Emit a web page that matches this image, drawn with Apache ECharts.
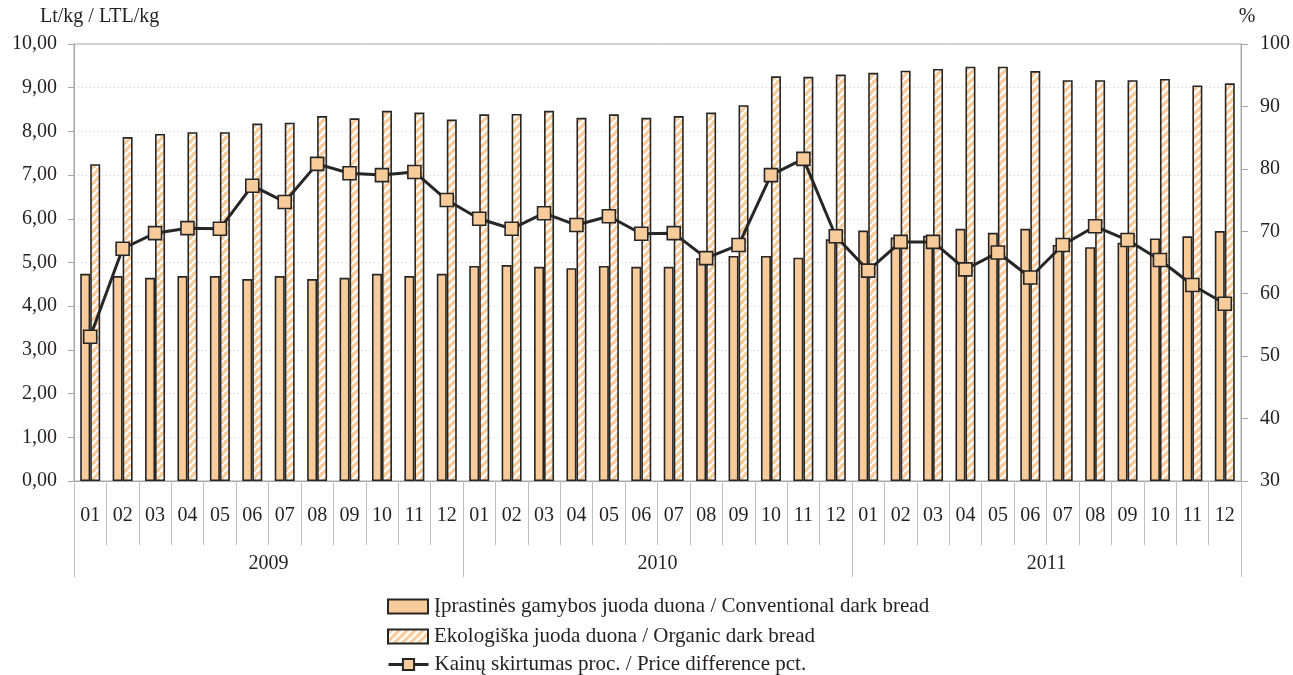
<!DOCTYPE html>
<html><head><meta charset="utf-8">
<script src="https://cdn.jsdelivr.net/npm/echarts@6/dist/echarts.min.js"></script>
<style>html,body{margin:0;padding:0;background:#fff}#c{width:1293px;height:675px}</style>
</head><body><div id="c"></div>
<script>
var months = ['01','02','03','04','05','06','07','08','09','10','11','12',
              '01','02','03','04','05','06','07','08','09','10','11','12',
              '01','02','03','04','05','06','07','08','09','10','11','12'];
var years = ['2009','2010','2011'];
var conventional = [4.74,4.69,4.65,4.69,4.69,4.62,4.69,4.62,4.65,4.74,4.69,4.74,
                    4.92,4.94,4.90,4.87,4.92,4.90,4.90,5.10,5.15,5.15,5.11,5.53,
                    5.73,5.57,5.61,5.77,5.68,5.77,5.40,5.35,5.45,5.55,5.60,5.72];
var organic = [7.25,7.87,7.94,7.98,7.98,8.18,8.20,8.35,8.30,8.47,8.43,8.27,
               8.39,8.40,8.47,8.31,8.39,8.31,8.35,8.43,8.60,9.26,9.25,9.30,
               9.34,9.39,9.43,9.48,9.48,9.38,9.17,9.17,9.17,9.20,9.05,9.10];
var priceDiff = [53.1,67.2,69.7,70.5,70.4,77.3,74.7,80.8,79.3,79.0,79.5,75.0,
                 72.0,70.4,72.9,71.0,72.4,69.6,69.7,65.7,67.8,79.0,81.6,69.2,
                 63.7,68.3,68.3,63.9,66.6,62.6,67.8,70.8,68.6,65.4,61.4,58.4];
var names = ['Įprastinės gamybos juoda duona / Conventional dark bread',
             'Ekologiška juoda duona / Organic dark bread',
             'Kainų skirtumas proc. / Price difference pct.'];

var PEACH = '#F8CB9A', DARK = '#262626', GRAY = '#a6a6a6', TXT = '#231f20';
var FONT = '"Liberation Serif", "DejaVu Serif", serif';
var FS = 20;

var pc = document.createElement('canvas');
pc.width = 8; pc.height = 8;
var g = pc.getContext('2d');
g.fillStyle = PEACH; g.fillRect(0,0,8,8);
g.strokeStyle = '#ffffff'; g.lineWidth = 2.6;
for (var k = -8; k <= 16; k += 8) {
  g.beginPath(); g.moveTo(k, 8); g.lineTo(k + 8, 0); g.stroke();
}
var hatch = {image: pc, repeat: 'repeat'};

function legendAt(name, top, icon) {
  var d = {name: name};
  if (icon) d.icon = icon;
  return {
    orient: 'horizontal', left: 382, top: top,
    itemWidth: 40, itemHeight: 14, itemGap: 4,
    textStyle: {fontFamily: FONT, fontSize: 21, color: TXT, padding: [0, 0, 0, 1]},
    lineStyle: {width: 3, color: DARK},
    data: [d]
  };
}

var chart = echarts.init(document.getElementById('c'));
chart.setOption({
  animation: false,
  backgroundColor: '#fff',
  textStyle: {fontFamily: FONT, color: TXT},
  grid: {left: 74, right: 51, top: 44, bottom: 194, show: true, borderColor: GRAY, borderWidth: 1},
  legend: [
    legendAt(names[0], 591, 'rect'),
    legendAt(names[1], 621, 'rect'),
    legendAt(names[2], 649, null)
  ],
  xAxis: [{
    type: 'category', data: months, position: 'bottom',
    axisLine: {lineStyle: {color: GRAY}},
    axisTick: {show: true, interval: 0, length: 64, lineStyle: {color: '#bfbfbf'}},
    axisLabel: {interval: 0, margin: 25, fontSize: FS, color: TXT, fontFamily: FONT},
    splitLine: {show: false}
  }, {
    type: 'category', data: years, position: 'bottom',
    axisLine: {show: false},
    axisTick: {show: true, interval: 0, length: 96, lineStyle: {color: '#bfbfbf'}},
    axisLabel: {interval: 0, margin: 73, fontSize: FS, color: TXT, fontFamily: FONT},
    splitLine: {show: false}
  }],
  yAxis: [{
    type: 'value', min: 0, max: 10, interval: 1,
    name: 'Lt/kg / LTL/kg', nameLocation: 'end', nameGap: 17,
    nameTextStyle: {fontSize: FS, color: TXT, fontFamily: FONT, align: 'left', padding: [0, 0, 0, -34]},
    axisLine: {show: true, lineStyle: {color: GRAY}},
    axisTick: {show: true, length: 6, lineStyle: {color: GRAY}},
    axisLabel: {margin: 17, fontSize: FS, color: TXT, fontFamily: FONT,
      formatter: function (v) { return v.toFixed(2).replace('.', ','); }},
    splitLine: {show: true, lineStyle: {color: '#d0d0d0', type: [1, 3], width: 1}}
  }, {
    type: 'value', min: 30, max: 100, interval: 10, position: 'right',
    name: '%', nameLocation: 'end', nameGap: 17,
    nameTextStyle: {fontSize: FS, color: TXT, fontFamily: FONT, align: 'center', padding: [0, 0, 0, 12]},
    axisLine: {show: true, lineStyle: {color: GRAY}},
    axisTick: {show: true, length: 7, lineStyle: {color: GRAY}},
    axisLabel: {margin: 19, fontSize: FS, color: TXT, fontFamily: FONT},
    splitLine: {show: false}
  }],
  series: [{
    name: names[0], type: 'bar', data: conventional, xAxisIndex: 0, yAxisIndex: 0,
    barWidth: 10, barGap: '0%',
    itemStyle: {color: PEACH, borderColor: DARK, borderWidth: 1.6}
  }, {
    name: names[1], type: 'bar', data: organic, xAxisIndex: 0, yAxisIndex: 0,
    barWidth: 10, barGap: '0%',
    itemStyle: {color: hatch, borderColor: DARK, borderWidth: 1.6}
  }, {
    name: names[2], type: 'line', data: priceDiff, xAxisIndex: 0, yAxisIndex: 1,
    symbol: 'rect', symbolSize: 13, z: 5,
    lineStyle: {color: DARK, width: 3},
    itemStyle: {color: PEACH, borderColor: DARK, borderWidth: 1.6}
  }]
});
</script></body></html>
